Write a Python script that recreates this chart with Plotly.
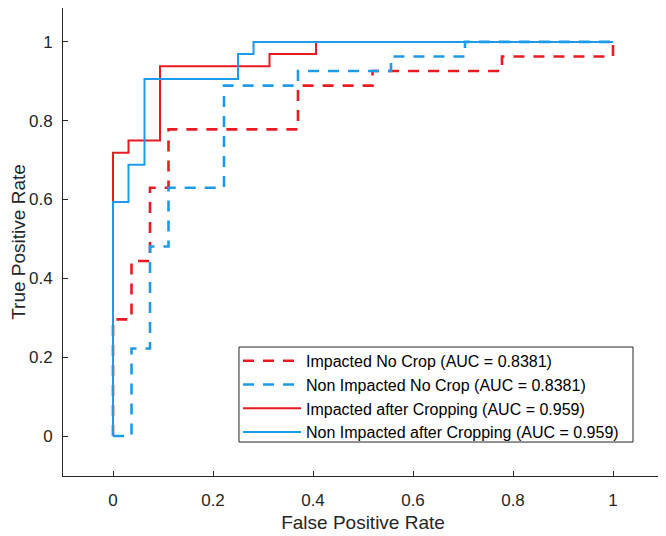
import plotly.graph_objects as go

# ROC corner points (FPR, TPR), drawn as steps
fpr_imp_nocrop = [0, 0, 0.037, 0.074, 0.111, 0.370, 0.519, 0.778, 1.0]
tpr_imp_nocrop = [0, 0.296, 0.444, 0.630, 0.778, 0.889, 0.926, 0.963, 1.0]

fpr_non_nocrop = [0, 0.037, 0.074, 0.111, 0.222, 0.370, 0.556, 0.704, 1.0]
tpr_non_nocrop = [0, 0.222, 0.481, 0.630, 0.889, 0.926, 0.963, 1.0, 1.0]

fpr_imp_crop = [0, 0, 0.031, 0.094, 0.313, 0.406, 1.0]
tpr_imp_crop = [0, 0.719, 0.750, 0.938, 0.969, 1.0, 1.0]

fpr_non_crop = [0, 0, 0.031, 0.063, 0.250, 0.281, 1.0]
tpr_non_crop = [0, 0.594, 0.688, 0.906, 0.969, 1.0, 1.0]

names = [
    'Impacted No Crop (AUC = 0.8381)',
    'Non Impacted No Crop (AUC = 0.8381)',
    'Impacted after Cropping (AUC = 0.959)',
    'Non Impacted after Cropping (AUC = 0.959)',
]
ticks = [0, 0.2, 0.4, 0.6, 0.8, 1]

RED = '#EA1A22'
BLUE = '#1E9BE8'
AX = '#262626'

fig = go.Figure()
series = [
    (fpr_imp_nocrop, tpr_imp_nocrop, RED, '11px,9px', 2.6),
    (fpr_non_nocrop, tpr_non_nocrop, BLUE, '11px,9px', 2.6),
    (fpr_imp_crop, tpr_imp_crop, RED, 'solid', 2),
    (fpr_non_crop, tpr_non_crop, BLUE, 'solid', 2),
]
for (x, y, c, d, w), n in zip(series, names):
    fig.add_trace(go.Scatter(x=x, y=y, mode='lines', name=n,
                             line=dict(color=c, dash=d, width=w, shape='hv')))

axis_common = dict(ticks='inside', ticklen=5, tickvals=ticks,
                   tickcolor=AX, showline=True, linecolor=AX, linewidth=1,
                   showgrid=False, zeroline=False, automargin=False,
                   tickfont=dict(size=17, color=AX))

# legend frame (white box above the curves)
fig.add_shape(type='rect', xref='paper', yref='paper',
              x0=0.2933, x1=0.95, y0=0.0726, y1=0.2756,
              line=dict(color=AX, width=1), fillcolor='white', layer='above')

fig.update_layout(
    width=666, height=536,
    margin=dict(l=55, r=11, t=0, b=68),
    plot_bgcolor='white', paper_bgcolor='white',
    font=dict(family='Liberation Sans, Arial, sans-serif', color=AX),
    xaxis=dict(range=[-0.1, 1.1], ticklabelstandoff=9,
               title=dict(text='False Positive Rate', font=dict(size=19), standoff=6),
               **axis_common),
    yaxis=dict(range=[-0.1015, 1.086], ticklabelstandoff=6,
               title=dict(text='True Positive Rate', font=dict(size=19), standoff=0),
               **axis_common),
    legend=dict(x=0.2917, y=0.2825, xanchor='left', yanchor='top',
                borderwidth=0, bgcolor='rgba(0,0,0,0)',
                font=dict(size=16, color='black'), itemwidth=58,
                tracegroupgap=0),
    showlegend=True,
)

fig.write_html('out.html')
